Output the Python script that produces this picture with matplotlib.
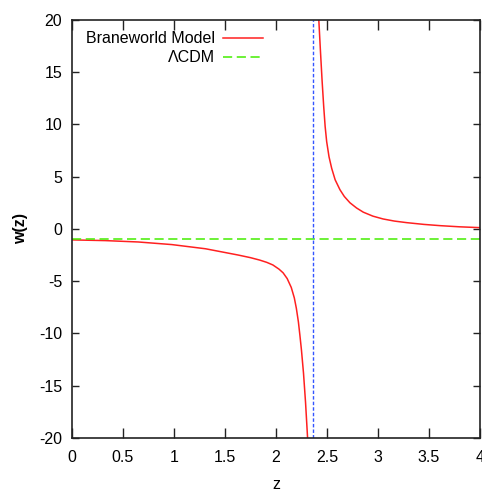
import matplotlib.pyplot as plt

# values
z_low = [0.0, 0.33, 0.65, 0.98, 1.31, 1.63, 1.75, 1.84, 1.91, 1.97, 2.03, 2.07,
         2.11, 2.15, 2.18, 2.20, 2.22, 2.235, 2.25, 2.27, 2.29, 2.31]
w_low = [-1.05, -1.12, -1.25, -1.5, -1.9, -2.5, -2.75, -2.98, -3.2, -3.45, -3.85,
         -4.2, -4.75, -5.6, -6.6, -7.6, -8.9, -10.2, -11.6, -13.8, -16.6, -20.0]

z_high = [2.42, 2.435, 2.452, 2.468, 2.482, 2.497, 2.52, 2.546, 2.58, 2.627,
          2.67, 2.725, 2.79, 2.856, 2.95, 3.05, 3.16, 3.28, 3.45, 3.61, 3.8, 4.0]
w_high = [20.0, 17.2, 14.2, 11.7, 9.8, 8.35, 6.9, 5.8, 4.7, 3.75, 3.1, 2.5, 2.0,
          1.6, 1.22, 0.95, 0.75, 0.6, 0.43, 0.31, 0.2, 0.12]

w_lcdm = -1.0
z_pole = 2.367

x_ticks = [0, 0.5, 1, 1.5, 2, 2.5, 3, 3.5, 4]
x_ticklabels = ["0", "0.5", "1", "1.5", "2", "2.5", "3", "3.5", "4"]
y_ticks = [-20, -15, -10, -5, 0, 5, 10, 15, 20]

plt.rcParams["font.family"] = ["Liberation Sans", "DejaVu Sans"]
plt.rcParams["axes.unicode_minus"] = False

fig = plt.figure(figsize=(4.82, 4.96), dpi=100)
ax = fig.add_axes([0.149, 0.117, 0.847, 0.843])

ax.plot(z_low, w_low, color="#ff2020", lw=1.1, label="Braneworld Model")
ax.plot(z_high, w_high, color="#ff2020", lw=1.1)
ax.axhline(w_lcdm, color="#44ee00", lw=1.1, dashes=(6, 3), label="ΛCDM")
ax.axvline(z_pole, color="#3355ff", lw=1.0, dashes=(2.5, 1.5))

ax.set_xlim(0, 4)
ax.set_ylim(-20, 20)
ax.set_xticks(x_ticks)
ax.set_xticklabels(x_ticklabels)
ax.set_yticks(y_ticks)
ax.tick_params(direction="in", top=True, right=True, labelsize=11.5, width=1.0, color="#222222")
ax.tick_params(axis="x", length=7, pad=9)
ax.tick_params(axis="y", length=5, pad=7)
for s in ax.spines.values():
    s.set_linewidth(1.2)
    s.set_color("#222222")

ax.set_xlabel("z", fontsize=11.5, labelpad=8)
ax.set_ylabel("w(z)", fontsize=11.5, fontweight="bold", labelpad=8)

ax.legend(loc="upper right", bbox_to_anchor=(0.468, 0.973), frameon=False,
          markerfirst=False, fontsize=11.5, handlelength=2.5, handletextpad=0.5,
          borderpad=0, borderaxespad=0, labelspacing=0.25)

fig.savefig("out.png", dpi=100)
